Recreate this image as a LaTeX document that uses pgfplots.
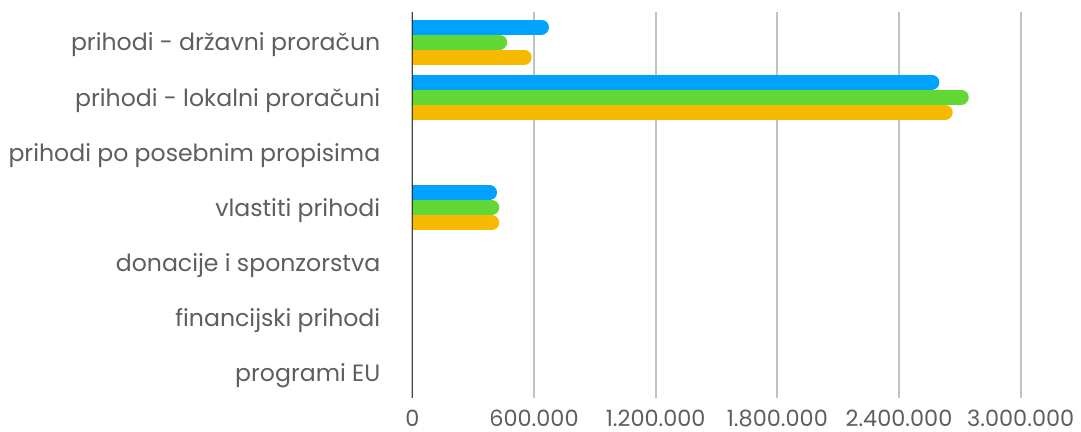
\documentclass[border=0pt]{standalone}
\usepackage{pgfplots}
\pgfplotsset{compat=1.18}
\usepackage{fontspec}
\setmainfont{Poppins}
\definecolor{cblue}{HTML}{00A2FF}
\definecolor{cgreen}{HTML}{61D836}
\definecolor{corange}{HTML}{F8BA00}
\definecolor{ctext}{HTML}{5E5E5E}
\definecolor{cgrid}{HTML}{C2C2C2}
\begin{document}
\begin{tikzpicture}
\begin{axis}[
  scale only axis, width=304.2pt, height=193pt,
  xmin=0, xmax=3000000, ymin=-0.544, ymax=6.453, y dir=reverse,
  axis line style={draw=none},
  ytick={0,1,2,3,4,5,6},
  yticklabels={prihodi - državni proračun, prihodi - lokalni proračuni, prihodi po posebnim propisima, vlastiti prihodi\ , donacije i sponzorstva, financijski prihodi, programi EU},
  xtick={0,600000,1200000,1800000,2400000,3000000},
  xticklabels={0,600.000,1.200.000,1.800.000,2.400.000,3.000.000},
  scaled x ticks=false,
  major tick length=0pt,
  xmajorgrids, grid style={draw=cgrid, line width=1pt},
  ticklabel style={text=ctext},
  yticklabel style={font=\fontsize{11.8}{14}\selectfont, xshift=-12.5pt, yshift=-1.5pt},
  xticklabel style={font=\fontsize{11.2}{13}\selectfont, anchor=base, inner sep=0pt, yshift=-14.5pt},
  clip=true,
]
\addplot[xcomb, draw=cblue, line width=7.5pt, line cap=round, yshift=7.5pt, mark=none]
  coordinates {(637000,0) (2562000,1) (381000,3)};
\addplot[xcomb, draw=cgreen, line width=7.5pt, line cap=round, mark=none]
  coordinates {(431000,0) (2707000,1) (392000,3)};
\addplot[xcomb, draw=corange, line width=7.5pt, line cap=round, yshift=-7.5pt, mark=none]
  coordinates {(552000,0) (2628000,1) (392000,3)};
\draw[black, line width=1pt] (axis cs:0,-0.544) -- (axis cs:0,6.453);
\end{axis}
\pgfresetboundingbox
\path[use as bounding box] (-206.15pt,-17pt) rectangle (334.35pt,199pt);
\end{tikzpicture}
\end{document}
